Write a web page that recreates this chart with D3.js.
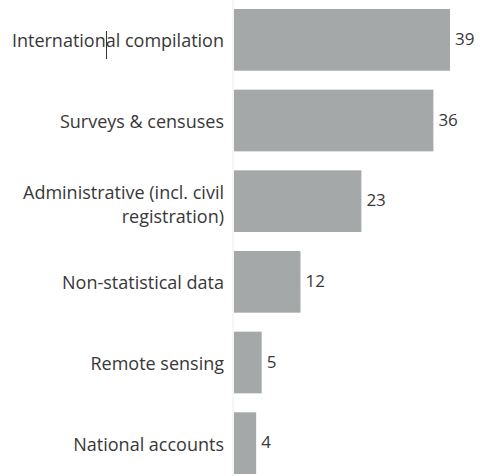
<!DOCTYPE html>
<html>
<head>
<meta charset="utf-8">
<script src="https://cdn.jsdelivr.net/npm/d3@7"></script>
<style>
  body { margin: 0; background: #fff; }
  text { font-family: "Open Sans", sans-serif; fill: #383838; }
</style>
</head>
<body>
<svg id="chart" width="480" height="476"></svg>
<script>
const categories = [
  ["International compilation"],
  ["Surveys & censuses"],
  ["Administrative (incl. civil", "registration)"],
  ["Non-statistical data"],
  ["Remote sensing"],
  ["National accounts"]
]
const values = [39, 36, 23, 12, 5, 4]

const svg = d3.select("#chart")
const x0 = 234

const x = d3.scaleLinear().domain([0, 39]).range([x0, 450])
const y = d3.scaleBand()
  .domain(d3.range(values.length))
  .range([9, 474])
  .paddingInner(0.235)
  .paddingOuter(0)

// faint axis line
svg.append("line")
  .attr("x1", x0 - 1).attr("x2", x0 - 1)
  .attr("y1", 0).attr("y2", 476)
  .attr("stroke", "#ececec")

svg.append("g")
  .selectAll("rect")
  .data(values)
  .join("rect")
  .attr("x", x(0))
  .attr("y", (d, i) => y(i))
  .attr("width", d => x(d) - x(0))
  .attr("height", y.bandwidth())
  .attr("fill", "#a5a8a9")

svg.append("g")
  .selectAll("text")
  .data(values)
  .join("text")
  .attr("x", d => x(d) + 5)
  .attr("y", (d, i) => y(i) + y.bandwidth() / 2)
  .attr("dy", "0.3em")
  .attr("font-size", 17)
  .text(d => d)

const labels = svg.append("g")
  .selectAll("text")
  .data(categories)
  .join("text")
  .attr("text-anchor", "end")
  .attr("font-size", 18)
  .attr("y", (d, i) => y(i) + y.bandwidth() / 2)

labels.selectAll("tspan")
  .data(d => d.map((t, j) => ({ t, j, n: d.length })))
  .join("tspan")
  .attr("x", 224)
  .attr("dy", d => d.j == 0 ? (d.n == 1 ? "0.42em" : "-0.1em") : "1.3em")
  .text(d => d.t)

// stray text cursor from the source screenshot
svg.append("line")
  .attr("x1", 106.5).attr("x2", 106.5)
  .attr("y1", 31).attr("y2", 59)
  .attr("stroke", "#333")
</script>
</body>
</html>
